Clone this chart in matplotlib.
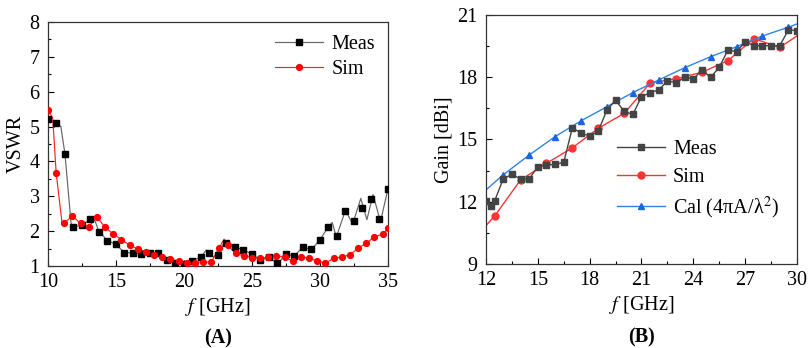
import matplotlib
matplotlib.use("Agg")
import matplotlib.pyplot as plt
from matplotlib.ticker import MultipleLocator, AutoMinorLocator

plt.rcParams['font.family'] = ['Liberation Serif', 'DejaVu Serif']
plt.rcParams['mathtext.fontset'] = 'stix'

# ---------------- Panel A: VSWR ----------------
meas_f = [10.0, 10.625, 11.25, 11.875, 12.5, 13.125, 13.75, 14.375, 15.0, 15.625,
          16.25, 16.875, 17.5, 18.125, 18.75, 19.375, 20.0, 20.625, 21.25, 21.875,
          22.5, 23.125, 23.75, 24.375, 25.0, 25.625, 26.25, 26.875, 27.5, 28.125,
          28.75, 29.375, 30.0, 30.625, 31.25, 31.875, 32.5, 33.125, 33.75, 34.375, 35.0]
meas_v = [5.21, 5.11, 4.21, 2.12, 2.17, 2.34, 1.99, 1.73, 1.62, 1.38,
          1.38, 1.34, 1.36, 1.38, 1.17, 1.10, 1.05, 1.15, 1.27, 1.36,
          1.32, 1.65, 1.55, 1.46, 1.34, 1.17, 1.25, 1.08, 1.34, 1.29,
          1.55, 1.48, 1.76, 2.13, 1.86, 2.59, 2.30, 2.65, 2.92, 2.35, 3.22]

meas_trace_f = [10.0, 10.625, 10.95, 11.25, 11.7, 11.875, 12.5, 13.125, 13.45, 13.75,
                14.375, 15.0, 15.625, 16.25, 16.875, 17.5, 18.125, 18.75, 19.375, 20.0,
                20.625, 21.25, 21.65, 22.15, 22.5, 23.0, 23.125, 23.75, 24.375, 25.0,
                25.625, 26.25, 26.875, 27.5, 28.125, 28.75, 29.375, 30.0, 30.625, 30.9,
                31.2, 31.875, 32.4, 33.0, 33.45, 33.9, 34.45, 35.0]
meas_trace_v = [5.21, 5.11, 5.00, 4.21, 2.22, 2.12, 2.17, 2.34, 2.30, 1.99,
                1.73, 1.62, 1.38, 1.38, 1.34, 1.36, 1.38, 1.17, 1.10, 1.05,
                1.15, 1.27, 1.46, 1.26, 1.32, 1.70, 1.65, 1.55, 1.46, 1.34,
                1.17, 1.25, 1.06, 1.34, 1.29, 1.55, 1.46, 1.76, 2.13, 2.25,
                1.83, 2.60, 2.20, 2.94, 2.33, 3.05, 2.27, 3.22]

sim_f = [10.0, 10.6, 11.2, 11.8, 12.4, 13.0, 13.6, 14.2, 14.8, 15.4,
         16.0, 16.6, 17.2, 17.8, 18.4, 19.0, 19.6, 20.2, 20.8, 21.4,
         22.0, 22.6, 23.2, 23.8, 24.4, 25.0, 25.6, 26.2, 26.8, 27.4,
         28.0, 28.6, 29.2, 29.8, 30.4, 31.0, 31.6, 32.2, 32.8, 33.4,
         34.0, 34.6, 35.0]
sim_v = [5.47, 3.68, 2.24, 2.43, 2.22, 2.13, 2.41, 2.11, 1.92, 1.76,
         1.60, 1.49, 1.41, 1.33, 1.25, 1.19, 1.14, 1.10, 1.10, 1.12,
         1.11, 1.53, 1.60, 1.36, 1.29, 1.24, 1.22, 1.25, 1.29, 1.25,
         1.14, 1.27, 1.22, 1.15, 1.08, 1.22, 1.26, 1.32, 1.51, 1.65,
         1.84, 1.91, 2.08]
sim_trace_f = [10.0, 10.35, 10.6, 11.05, 11.2, 11.8, 12.4, 13.0, 13.6, 14.2,
               14.8, 15.4, 16.0, 16.6, 17.2, 17.8, 18.4, 19.0, 19.6, 20.2,
               20.8, 21.4, 22.0, 22.6, 22.95, 23.2, 23.8, 24.4, 25.0, 25.6,
               26.2, 26.8, 27.4, 28.0, 28.6, 29.2, 29.8, 30.4, 31.0, 31.6,
               32.2, 32.8, 33.4, 34.0, 34.6, 35.0]
sim_trace_v = [5.47, 5.25, 3.68, 2.18, 2.24, 2.43, 2.22, 2.13, 2.41, 2.11,
               1.92, 1.76, 1.60, 1.49, 1.41, 1.33, 1.25, 1.19, 1.14, 1.10,
               1.10, 1.12, 1.11, 1.53, 1.77, 1.60, 1.36, 1.29, 1.24, 1.22,
               1.25, 1.29, 1.25, 1.14, 1.27, 1.22, 1.15, 1.08, 1.22, 1.26,
               1.32, 1.51, 1.65, 1.84, 1.91, 2.08]

# ---------------- Panel B: Gain ----------------
gmeas_f = [12.0, 12.3, 12.5, 13.0, 13.5, 14.0, 14.5, 15.0, 15.5, 16.0,
           16.5, 17.0, 17.5, 18.0, 18.5, 19.0, 19.5, 20.0, 20.5, 21.0,
           21.5, 22.0, 22.5, 23.0, 23.5, 24.0, 24.5, 25.0, 25.5, 26.0,
           26.5, 27.0, 27.5, 28.0, 28.5, 29.0, 29.5, 30.0]
gmeas_v = [12.04, 11.81, 12.04, 13.10, 13.32, 13.10, 13.10, 13.69, 13.77, 13.80,
           13.90, 15.57, 15.30, 15.17, 15.41, 16.42, 16.90, 16.35, 16.21, 17.06,
           17.26, 17.39, 17.82, 17.74, 18.00, 17.92, 18.35, 18.00, 18.48, 19.31,
           19.23, 19.71, 19.52, 19.52, 19.52, 19.52, 20.28, 20.25]

gsim_f = [12.0, 12.5, 14.0, 15.5, 17.0, 18.5, 20.0, 21.5, 23.0, 24.5, 26.0, 27.5, 29.0, 30.0]
gsim_v = [10.85, 11.31, 13.05, 13.85, 14.60, 15.54, 16.26, 17.72, 17.93, 18.24,
          18.80, 19.86, 19.44, 19.99]

gcal_f = [12.0, 13.0, 14.5, 16.0, 17.5, 19.0, 20.5, 22.0, 23.5, 25.0, 26.5, 28.0, 29.5, 30.0]
gcal_v = [12.57, 13.30, 14.25, 15.14, 15.90, 16.58, 17.26, 17.87, 18.46, 18.99,
          19.47, 19.99, 20.41, 20.57]

FS = 14.5

fig = plt.figure(figsize=(8.09, 3.48), dpi=100)
axA = fig.add_axes([0.0593, 0.2356, 0.4203, 0.7012])
axB = fig.add_axes([0.6007, 0.2414, 0.3845, 0.7155])

# Panel A
axA.plot(meas_trace_f, meas_trace_v, color='#666666', lw=0.85, zorder=2)
axA.plot(meas_f, meas_v, ls='none', marker='s', ms=4.2, color='black', zorder=3)
axA.plot(sim_trace_f, sim_trace_v, color='#ff2020', lw=0.85, zorder=2)
axA.plot(sim_f, sim_v, ls='none', marker='o', ms=4.2, color='#ff0000', zorder=3)
hA1, = axA.plot([], [], color='#666666', lw=0.85, marker='s', ms=4.2, mfc='black', mec='black')
hA2, = axA.plot([], [], color='#ff2020', lw=0.85, marker='o', ms=4.2, mfc='#ff0000', mec='#ff0000')
axA.set_xlim(10, 35)
axA.set_ylim(1, 8)
axA.xaxis.set_major_locator(MultipleLocator(5))
axA.xaxis.set_minor_locator(AutoMinorLocator(2))
axA.yaxis.set_major_locator(MultipleLocator(1))
axA.yaxis.set_minor_locator(AutoMinorLocator(2))
axA.set_ylabel('VSWR', fontsize=FS, labelpad=3)
axA.set_xlabel(r'$f$ [GHz]', fontsize=FS, labelpad=3)
axA.legend([hA1, hA2], ['Meas', 'Sim'], loc='upper right', frameon=False, fontsize=FS,
           handlelength=2.4, handletextpad=0.4, borderaxespad=0.25, labelspacing=0.3)
axA.text(0.5, -0.295, '(A)', transform=axA.transAxes, ha='center', va='center',
         fontsize=FS, fontweight='bold')

# Panel B
axB.plot(gmeas_f, gmeas_v, color='#444444', lw=1.0, marker='s', ms=4.0, zorder=3, label='Meas')
axB.plot(gsim_f, gsim_v, color='#ff3333', lw=1.0, marker='o', ms=5.0, zorder=2,
         markevery=list(range(1, len(gsim_f) - 1)), label='Sim')
axB.plot(gcal_f, gcal_v, color='#2f84e6', lw=1.0, marker='^', ms=5.0, mfc='#1a66e0', mec='#1a66e0',
         zorder=2, markevery=list(range(1, len(gcal_f) - 1)), label='Cal (4πA/λ$^{2}$)')
axB.set_xlim(12, 30)
axB.set_ylim(9, 21)
axB.xaxis.set_major_locator(MultipleLocator(3))
axB.xaxis.set_minor_locator(AutoMinorLocator(2))
axB.yaxis.set_major_locator(MultipleLocator(3))
axB.yaxis.set_minor_locator(AutoMinorLocator(2))
axB.set_ylabel('Gain [dBi]', fontsize=FS, labelpad=3)
axB.set_xlabel(r'$f$ [GHz]', fontsize=FS, labelpad=3)
axB.legend(loc='center right', bbox_to_anchor=(1.0, 0.335), frameon=False, fontsize=FS,
           handlelength=2.4, handletextpad=0.4, labelspacing=0.4)
axB.text(0.5, -0.297, '(B)', transform=axB.transAxes, ha='center', va='center',
         fontsize=FS, fontweight='bold')

for ax in (axA, axB):
    ax.tick_params(which='both', direction='in', top=False, right=False, labelsize=FS)
    ax.tick_params(which='major', length=4, width=0.8)
    ax.tick_params(which='minor', length=2, width=0.8)
    ax.tick_params(axis='y', which='major', pad=6)
    ax.tick_params(axis='x', which='major', pad=5)
    for s in ax.spines.values():
        s.set_linewidth(0.9)
        s.set_color('#333333')

fig.savefig('out.png', dpi=100)
